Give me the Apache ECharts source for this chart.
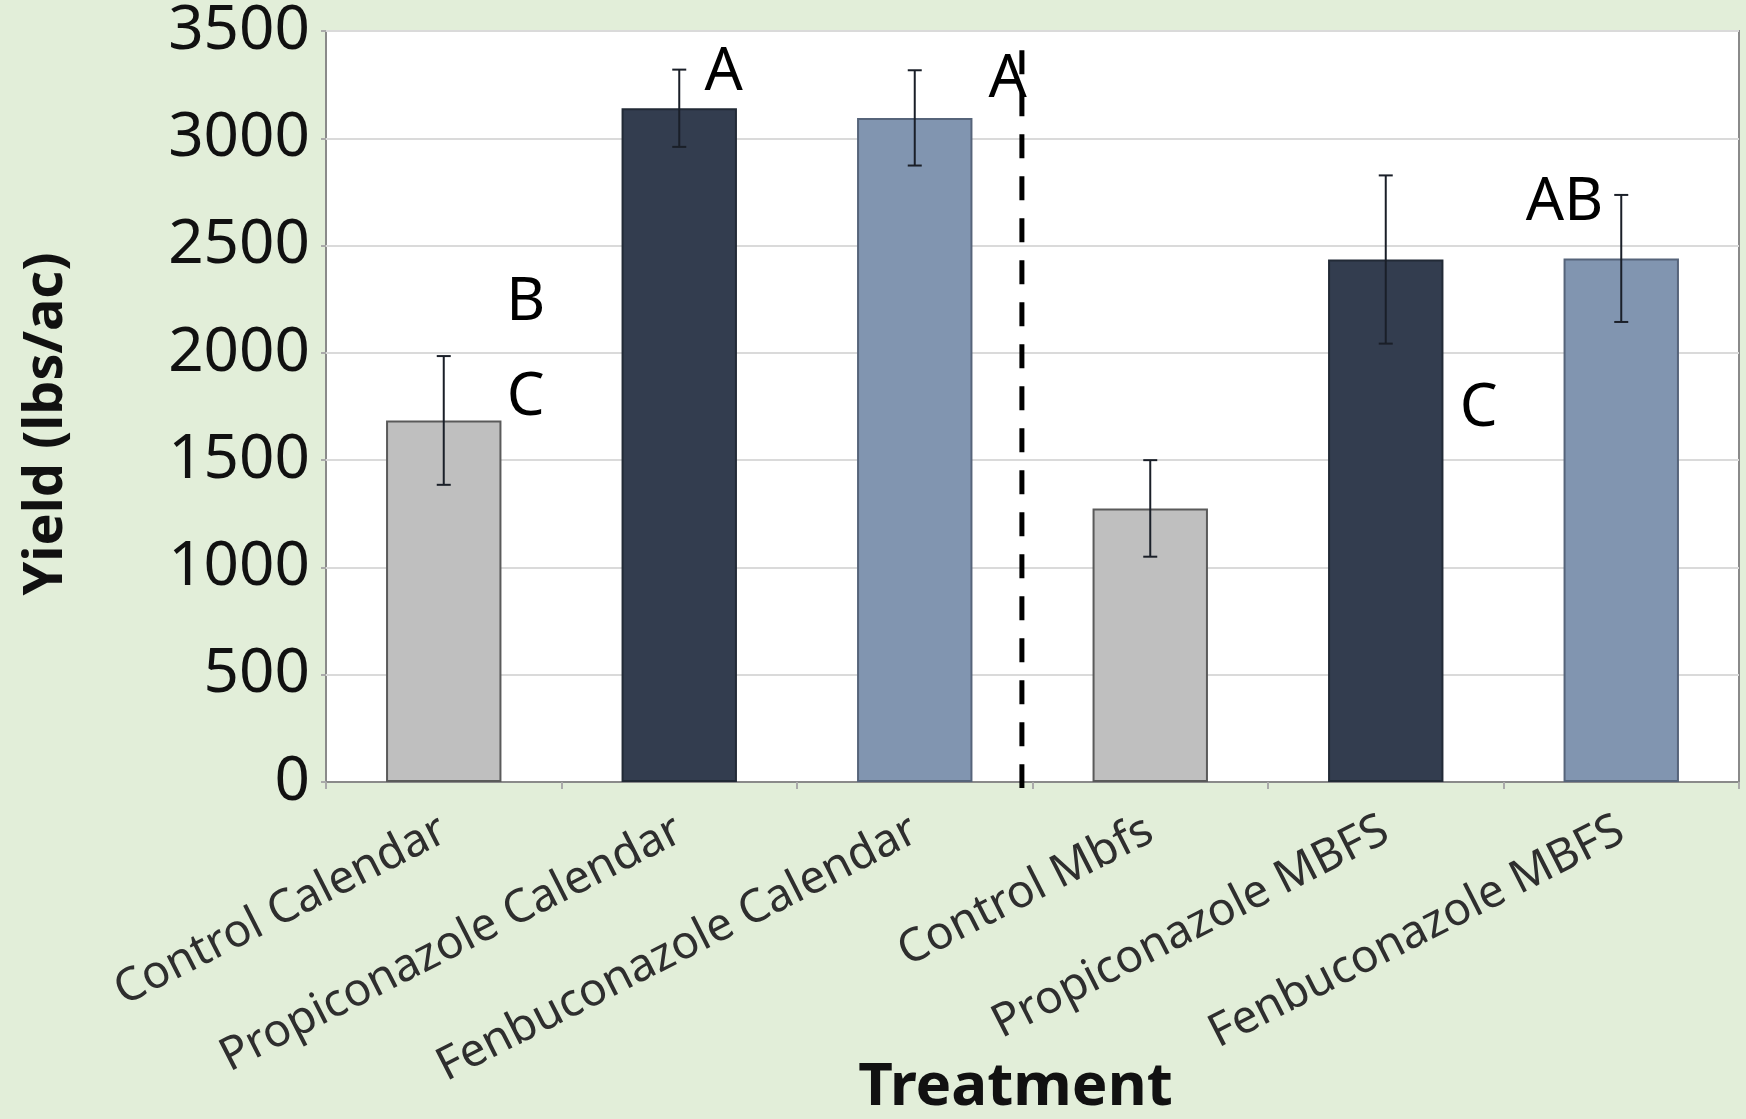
<!DOCTYPE html>
<html>
<head>
<meta charset="utf-8">
<script src="https://cdn.jsdelivr.net/npm/echarts@6/dist/echarts.min.js"></script>
<style>
html,body{margin:0;padding:0;background:#E2EED9;}
#chart{width:1746px;height:1119px;}
</style>
</head>
<body>
<div id="chart"></div>
<script>
// ---- data ----
const categories = ['Control Calendar', 'Propiconazole Calendar', 'Fenbuconazole Calendar', 'Control Mbfs', 'Propiconazole MBFS', 'Fenbuconazole MBFS'];
const yieldValues = [1685, 3140, 3095, 1275, 2435, 2440];
const yieldErrors = [300, 180, 222, 225, 392, 296];
const letterTexts = ['B', 'C', 'A', 'A', 'C', 'AB'];
const letterCats = [0, 0, 1, 2, 4, 5];
const letterValues = [2233, 1792, 3307, 3271, 1740, 2700];
const yTicks = [0, 500, 1000, 1500, 2000, 2500, 3000, 3500];
const dividerAfterCat = 2;
const dividerRange = [3410, -28];

// ---- layout / style ----
const letterOffsets = [0.348, 0.348, 0.189, 0.395, 0.395, -0.241];
const dividerOffset = 0.455;
const barColors = ['#BFBFBF', '#333D4F', '#8195B0', '#BFBFBF', '#333D4F', '#8195B0'];
const barBorders = ['#5a5a5a', '#222a36', '#56647a', '#5a5a5a', '#222a36', '#56647a'];

const chart = echarts.init(document.getElementById('chart'));

const option = {
  backgroundColor: '#E2EED9',
  animation: false,
  grid: {
    left: 326, right: 7, top: 31, bottom: 337,
    containLabel: false,
    outerBoundsMode: 'none',
    show: true, backgroundColor: '#ffffff', borderColor: '#8a8a8a', borderWidth: 2
  },
  xAxis: {
    type: 'category',
    data: categories,
    name: 'Treatment',
    nameLocation: 'middle',
    nameGap: 276,
    nameMoveOverlap: false,
    nameTextStyle: { fontFamily: 'Noto Sans', fontWeight: 'bold', fontSize: 60, color: '#111', padding: [0, 34, 0, 0] },
    axisLine: { lineStyle: { color: '#8a8a8a', width: 2 } },
    axisTick: { show: true, length: 7, lineStyle: { color: '#aaaaaa', width: 2 } },
    axisLabel: { rotate: 27, fontFamily: 'Noto Sans', fontSize: 46, color: '#2e2e2e', margin: 46 }
  },
  yAxis: {
    type: 'value',
    min: yTicks[0], max: yTicks[yTicks.length - 1], interval: 500,
    name: 'Yield (lbs/ac)',
    nameLocation: 'middle',
    nameGap: 252,
    nameRotate: 90,
    nameTextStyle: { fontFamily: 'Noto Sans', fontWeight: 'bold', fontSize: 54, color: '#111', padding: [0, 35, 0, 0] },
    axisLine: { show: false },
    axisTick: { show: true, length: 5, lineStyle: { color: '#aaaaaa', width: 2 } },
    axisLabel: { fontFamily: 'Noto Sans', fontSize: 62, color: '#111', margin: 16, formatter: function (v) { return String(v); } },
    splitLine: { lineStyle: { color: '#DADADA', width: 2 } }
  },
  series: [
    {
      type: 'bar',
      barWidth: '49%',
      data: yieldValues.map((v, i) => ({
        value: v,
        itemStyle: { color: barColors[i], borderColor: barBorders[i], borderWidth: 2 }
      })),
      z: 2
    },
    {
      type: 'custom',
      z: 5,
      data: yieldValues.map((v, i) => [i, v, yieldErrors[i]]),
      encode: { x: 0, y: 1 },
      renderItem: function (params, api) {
        const c = api.value(0), v = api.value(1), e = api.value(2);
        const top = api.coord([c, v + e]);
        const bot = api.coord([c, v - e]);
        const hw = 7;
        const style = { stroke: '#1a1f28', lineWidth: 2 };
        return {
          type: 'group',
          children: [
            { type: 'line', shape: { x1: top[0], y1: top[1], x2: bot[0], y2: bot[1] }, style: style },
            { type: 'line', shape: { x1: top[0] - hw, y1: top[1], x2: top[0] + hw, y2: top[1] }, style: style },
            { type: 'line', shape: { x1: bot[0] - hw, y1: bot[1], x2: bot[0] + hw, y2: bot[1] }, style: style }
          ]
        };
      }
    },
    {
      type: 'custom',
      z: 6,
      data: letterCats.map((c, i) => [c, letterValues[i]]),
      encode: { x: 0, y: 1 },
      renderItem: function (params, api) {
        const i = params.dataIndex;
        const p = api.coord([api.value(0), api.value(1)]);
        const w = api.size([1, 0])[0];
        return {
          type: 'text',
          x: p[0] + w * letterOffsets[i],
          y: p[1],
          style: {
            text: letterTexts[i],
            fontFamily: 'Noto Sans', fontSize: 60, fill: '#000',
            textAlign: 'center', textVerticalAlign: 'middle'
          }
        };
      }
    },
    {
      type: 'custom',
      z: 7,
      clip: false,
      data: [[dividerAfterCat, dividerRange[0], dividerRange[1]]],
      encode: { x: 0, y: 1 },
      renderItem: function (params, api) {
        const c = api.value(0);
        const a = api.coord([c, api.value(1)]);
        const b = api.coord([c, api.value(2)]);
        const w = api.size([1, 0])[0];
        const x = a[0] + w * dividerOffset;
        return {
          type: 'line',
          shape: { x1: x, y1: a[1], x2: x, y2: b[1] },
          style: { stroke: '#000', lineWidth: 5, lineDash: [24, 18] }
        };
      }
    }
  ]
};
chart.setOption(option);
</script>
</body>
</html>
